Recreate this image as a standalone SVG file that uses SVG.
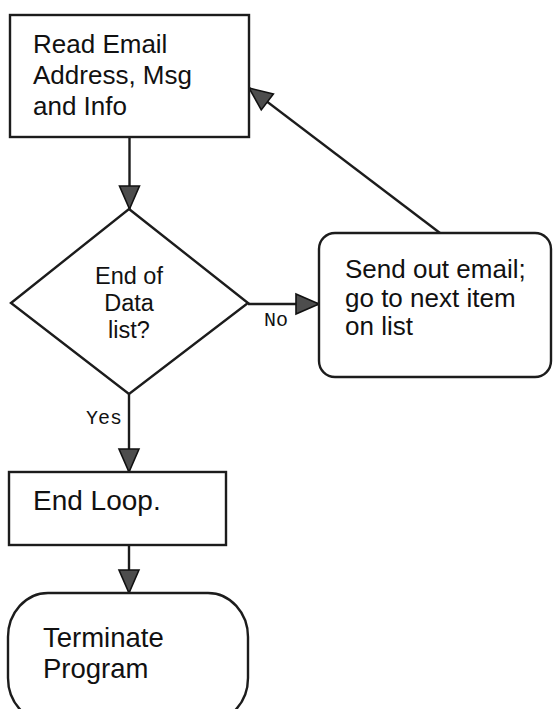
<svg xmlns="http://www.w3.org/2000/svg" width="553" height="709" viewBox="0 0 553 709">
  <defs>
    <marker id="arrow" markerUnits="userSpaceOnUse" markerWidth="26" markerHeight="24" refX="23" refY="10" orient="auto" overflow="visible">
      <path d="M0,0 L23,10 L0,20 Z" fill="#4d4d4d" stroke="#111" stroke-width="1.6" stroke-linejoin="miter"/>
    </marker>
    <style>
      .shape { fill: #ffffff; stroke: #1c1c1c; stroke-width: 2.4; }
      .conn { fill: none; stroke: #1c1c1c; stroke-width: 2.4; marker-end: url(#arrow); }
      .txt { font-family: "Liberation Sans", Arial, Helvetica, sans-serif; fill: #111; }
      .lbl { font-family: "Liberation Mono", "Courier New", monospace; fill: #111; font-size: 20px; }
    </style>
  </defs>

  <rect width="553" height="709" fill="#ffffff"/>

  <!-- connectors -->
  <g id="connectors">
    <line class="conn" x1="129.5" y1="137" x2="129.5" y2="209"/>
    <line class="conn" x1="248" y1="304" x2="319" y2="304"/>
    <line class="conn" x1="440" y1="233" x2="249" y2="88"/>
    <line class="conn" x1="129" y1="394" x2="129" y2="472"/>
    <line class="conn" x1="129" y1="545" x2="129" y2="593"/>
    <text class="lbl" x="264" y="326">No</text>
    <text class="lbl" x="86" y="424">Yes</text>
  </g>

  <!-- read step -->
  <g id="read">
    <rect class="shape" x="10" y="15" width="239" height="122"/>
    <text class="txt" font-size="26" x="33" y="53">Read Email</text>
    <text class="txt" font-size="26" x="33" y="84">Address, Msg</text>
    <text class="txt" font-size="26" x="33" y="115">and Info</text>
  </g>

  <!-- decision -->
  <g id="decision">
    <polygon class="shape" points="129,209 248,303 129,394 11,303"/>
    <text class="txt" font-size="23.5" text-anchor="middle" x="129" y="284">End of</text>
    <text class="txt" font-size="23.5" text-anchor="middle" x="129" y="311">Data</text>
    <text class="txt" font-size="23.5" text-anchor="middle" x="129" y="338">list?</text>
  </g>

  <!-- send step -->
  <g id="send">
    <rect class="shape" x="319" y="233" width="232" height="144" rx="16" ry="16"/>
    <text class="txt" font-size="26" x="345" y="278">Send out email;</text>
    <text class="txt" font-size="26" x="345" y="307">go to next item</text>
    <text class="txt" font-size="26" x="345" y="335">on list</text>
  </g>

  <!-- end loop -->
  <g id="endloop">
    <rect class="shape" x="9" y="472" width="217" height="73"/>
    <text class="txt" font-size="28" x="33" y="510">End Loop.</text>
  </g>

  <!-- terminator -->
  <g id="terminate">
    <rect class="shape" x="8" y="593" width="240" height="129" rx="40" ry="44"/>
    <text class="txt" font-size="27.5" x="43" y="647">Terminate</text>
    <text class="txt" font-size="27.5" x="43" y="678">Program</text>
  </g>
</svg>
